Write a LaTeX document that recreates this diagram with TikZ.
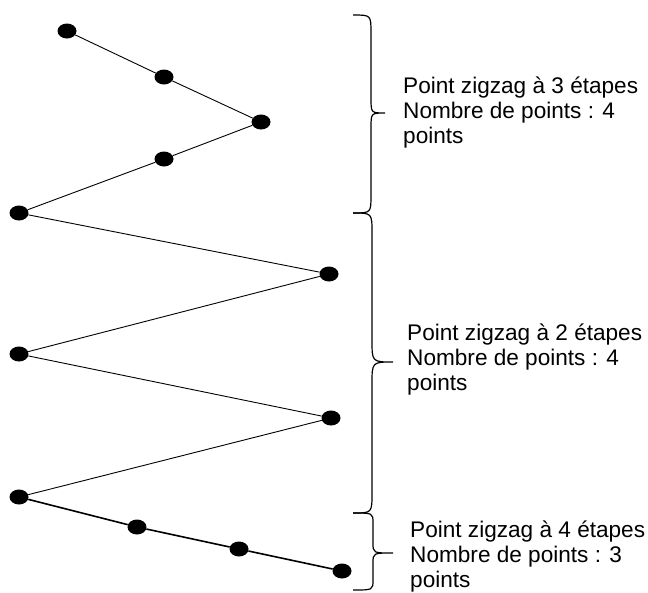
\documentclass[tikz,border=0pt]{standalone}
\usepackage{fontspec}
\setmainfont{Liberation Sans}
\usetikzlibrary{shapes.geometric}

\begin{document}
\begin{tikzpicture}[
  x=1pt,y=-1pt,
  zzdot/.style={ellipse,fill=black,minimum width=19pt,minimum height=15pt,inner sep=0pt},
  zzline/.style={line width=.9pt},
  zzbold/.style={line width=1.6pt},
  zzbrace/.style={line width=1.2pt},
  zzlabel/.style={anchor=base west,align=left,inner sep=0pt,
    font=\fontsize{22.6}{25}\selectfont}
]
  \useasboundingbox (0,0) rectangle (648,592);

  % the points of the zigzag
  \foreach \n/\x/\y in {1/67/31,2/164/77,3/261/122,4/164/159,5/19/213,6/329/274,
                        7/19/354,8/331/418,9/19/497,10/137/527,11/239/549,12/342/571}
    \node[zzdot] (p\n) at (\x,\y) {};

  \draw[zzline] (p1) -- (p2) -- (p3) -- (p4) -- (p5) -- (p6) -- (p7) -- (p8) -- (p9);
  \draw[zzbold] (p9) -- (p10) -- (p11) -- (p12);

  % braces: top, bottom, tip, stem x, tip x, end curl, tip curl
  \foreach \ya/\yb/\yt/\xs/\xt/\r/\q in {15/213/113/371/385/18/15,
                                         213/513/362/372/393/20/22,
                                         513/590/553/373/393/10/10}
    \draw[zzbrace] (353,\ya) .. controls (\xs,\ya) .. (\xs,\ya+\r)
      -- (\xs,\yt-\q) .. controls (\xs,\yt) .. (\xt,\yt)
      .. controls (\xs,\yt) .. (\xs,\yt+\q)
      -- (\xs,\yb-\r) .. controls (\xs,\yb) .. (353,\yb);

  % labels, placed on the baseline of their last line
  \node[zzlabel] (t1) at (403,143) {Point zigzag à 3 étapes\\Nombre de points : 4\\points};
  \node[zzlabel] (t2) at (407,390) {Point zigzag à 2 étapes\\Nombre de points : 4\\points};
  \node[zzlabel] (t3) at (410,587) {Point zigzag à 4 étapes\\Nombre de points : 3\\points};
\end{tikzpicture}
\end{document}
